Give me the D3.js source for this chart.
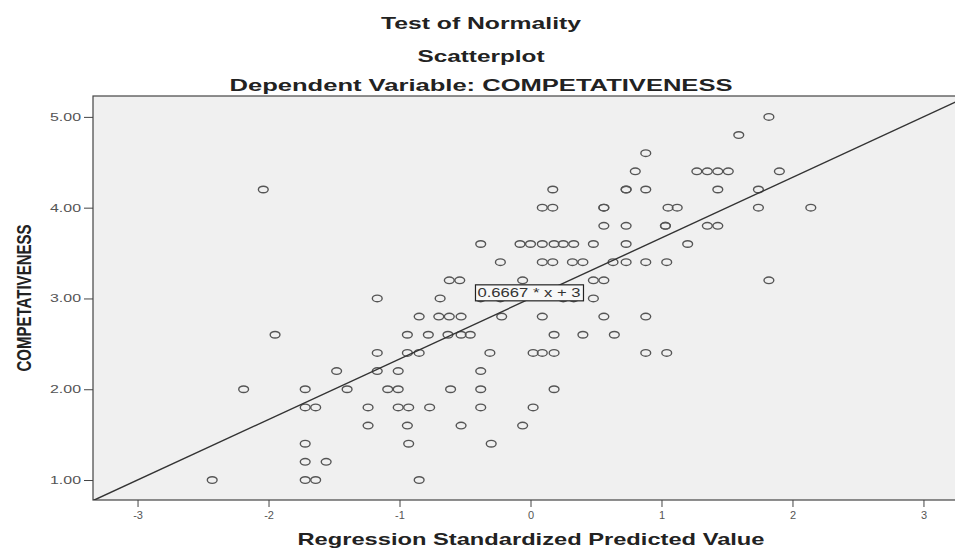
<!DOCTYPE html>
<html>
<head>
<meta charset="utf-8">
<script src="https://cdn.jsdelivr.net/npm/d3@7"></script>
<style>
  body { margin: 0; background: #fff; }
  svg { display: block; font-family: "Liberation Sans", Arial, sans-serif; }
</style>
</head>
<body>
<svg id="chart"></svg>
<script>
// competitiveness levels (y) and the standardized predicted values (x) found at each level
const levels = [5.0, 4.8, 4.6, 4.4, 4.2, 4.0, 3.8, 3.6, 3.4, 3.2, 3.0, 2.8, 2.6, 2.4, 2.2, 2.0, 1.8, 1.6, 1.4, 1.2, 1.0];
const predictedAtLevel = [
    [1.82],
    [1.59],
    [0.88],
    [0.80, 1.27, 1.35, 1.43, 1.51, 1.90],
    [-2.04, 0.17, 0.73, 0.73, 0.88, 1.43, 1.74],
    [0.09, 0.17, 0.56, 0.56, 1.05, 1.12, 1.74, 2.14],
    [0.56, 0.73, 1.03, 1.03, 1.35, 1.43],
    [-0.38, -0.08, 0.00, 0.09, 0.18, 0.25, 0.33, 0.48, 0.73, 1.20],
    [-0.23, 0.09, 0.17, 0.32, 0.40, 0.63, 0.73, 0.88, 1.04],
    [-0.62, -0.54, -0.06, 0.48, 0.56, 1.82],
    [-1.17, -0.69, -0.38, -0.23, 0.25, 0.33, 0.48],
    [-0.85, -0.70, -0.62, -0.53, -0.22, 0.09, 0.56, 0.88],
    [-1.95, -0.94, -0.78, -0.63, -0.53, -0.46, 0.18, 0.40, 0.64],
    [-1.17, -0.94, -0.85, -0.31, 0.02, 0.09, 0.18, 0.88, 1.04],
    [-1.48, -1.17, -1.01, -0.38],
    [-2.19, -1.72, -1.40, -1.09, -1.01, -0.61, -0.38, 0.18],
    [-1.72, -1.64, -1.24, -1.01, -0.93, -0.77, -0.38, 0.02],
    [-1.24, -0.94, -0.53, -0.06],
    [-1.72, -0.93, -0.30],
    [-1.72, -1.56],
    [-2.43, -1.72, -1.64, -0.85]
];
const xTicks = [-3, -2, -1, 0, 1, 2, 3];
const yTicks = [1, 2, 3, 4, 5];
const fitSlope = 0.6667;
const fitIntercept = 3;
const fitLabel = "0.6667 * x + 3";

const points = [];
levels.forEach((lv, i) => predictedAtLevel[i].forEach(p => points.push({ x: p, y: lv })));

const width = 955;
const height = 548;
const margin = { top: 96, right: -13, bottom: 48, left: 93 };

const svg = d3.select("#chart").attr("width", width).attr("height", height);

const x = d3.scaleLinear()
    .domain([-3.34, 3.34])
    .range([margin.left, width - margin.right]);

const y = d3.scaleLinear()
    .domain([0.78, 5.23])
    .range([height - margin.bottom, margin.top]);

// titles
const titles = [
    { text: "Test of Normality", y: 29, len: 200 },
    { text: "Scatterplot", y: 62, len: 127 },
    { text: "Dependent Variable: COMPETATIVENESS", y: 91, len: 503 }
];
svg.append("g")
    .selectAll("text")
    .data(titles)
    .join("text")
    .attr("x", 481)
    .attr("y", d => d.y)
    .attr("text-anchor", "middle")
    .attr("font-size", "16px")
    .attr("font-weight", "bold")
    .attr("fill", "#222")
    .attr("textLength", d => d.len)
    .attr("lengthAdjust", "spacingAndGlyphs")
    .text(d => d.text);

// plot area
svg.append("defs").append("clipPath").attr("id", "plotclip")
    .append("rect")
    .attr("x", x.range()[0]).attr("y", y.range()[1])
    .attr("width", x.range()[1] - x.range()[0])
    .attr("height", y.range()[0] - y.range()[1]);

svg.append("rect")
    .attr("x", x.range()[0]).attr("y", y.range()[1])
    .attr("width", x.range()[1] - x.range()[0])
    .attr("height", y.range()[0] - y.range()[1])
    .attr("fill", "#f0f0f0")
    .attr("stroke", "#444")
    .attr("stroke-width", 1.2);

const plot = svg.append("g").attr("clip-path", "url(#plotclip)");

// points
plot.append("g")
    .selectAll("ellipse")
    .data(points)
    .join("ellipse")
    .attr("cx", d => x(d.x))
    .attr("cy", d => y(d.y))
    .attr("rx", 4.9)
    .attr("ry", 3.3)
    .attr("fill", "none")
    .attr("stroke", "#555")
    .attr("stroke-width", 1.4);

// fit line
const xd = x.domain();
plot.append("line")
    .attr("x1", x(xd[0])).attr("y1", y(fitSlope * xd[0] + fitIntercept))
    .attr("x2", x(xd[1])).attr("y2", y(fitSlope * xd[1] + fitIntercept))
    .attr("stroke", "#333")
    .attr("stroke-width", 1.4);

// fit label box
const lx = x(-0.42), ly = y(3.15);
plot.append("rect")
    .attr("x", lx).attr("y", ly)
    .attr("width", 108).attr("height", 16)
    .attr("fill", "#f7f7f7")
    .attr("stroke", "#222")
    .attr("stroke-width", 1.2);
plot.append("text")
    .attr("x", lx + 2).attr("y", ly + 12.5)
    .attr("font-size", "12px")
    .attr("fill", "#333")
    .attr("textLength", 103)
    .attr("lengthAdjust", "spacingAndGlyphs")
    .text(fitLabel);

// axes
const yAxis = svg.append("g")
    .attr("transform", `translate(${margin.left}, 0)`)
    .call(d3.axisLeft(y).tickValues(yTicks).tickFormat(d3.format(".2f")).tickSize(9).tickPadding(3));
yAxis.select(".domain").remove();
yAxis.selectAll("line").attr("stroke", "#444");
yAxis.selectAll("text")
    .attr("font-size", "11px")
    .attr("fill", "#555")
    .attr("textLength", 31)
    .attr("lengthAdjust", "spacingAndGlyphs");

const xAxis = svg.append("g")
    .attr("transform", `translate(0, ${height - margin.bottom})`)
    .call(d3.axisBottom(x).tickValues(xTicks).tickFormat(d => String(d)).tickSize(7).tickPadding(4));
xAxis.select(".domain").remove();
xAxis.selectAll("line").attr("stroke", "#444");
xAxis.selectAll("text")
    .attr("font-size", "11px")
    .attr("fill", "#555");

// axis titles
svg.append("text")
    .attr("x", 531).attr("y", 545)
    .attr("text-anchor", "middle")
    .attr("font-size", "17px")
    .attr("font-weight", "bold")
    .attr("fill", "#222")
    .attr("textLength", 467)
    .attr("lengthAdjust", "spacingAndGlyphs")
    .text("Regression Standardized Predicted Value");

svg.append("text")
    .attr("transform", "translate(31, 298) rotate(-90)")
    .attr("text-anchor", "middle")
    .attr("font-size", "20px")
    .attr("font-weight", "bold")
    .attr("fill", "#222")
    .attr("textLength", 147)
    .attr("lengthAdjust", "spacingAndGlyphs")
    .text("COMPETATIVENESS");
</script>
</body>
</html>
